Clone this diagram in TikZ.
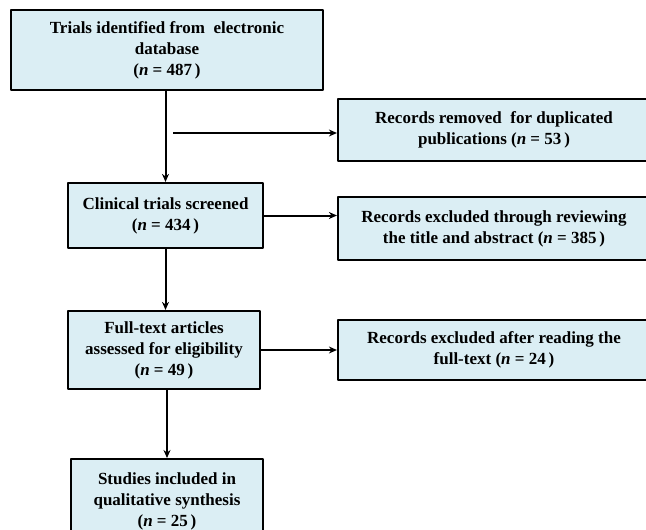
\documentclass[tikz,border=0pt]{standalone}
\usepackage{fontspec}
\setmainfont{Liberation Serif}
\usetikzlibrary{arrows.meta}
\definecolor{boxblue}{HTML}{DBEEF4}
\newcommand{\nn}[1]{(\textit{n} = #1\,)}
\begin{document}
\begin{tikzpicture}[x=1pt,y=-1pt,line join=round,>={Stealth[length=8pt,width=7pt]},
  font=\fontsize{17}{21}\selectfont\bfseries,
  flowbox/.style={draw=black,line width=2.2pt,fill=boxblue,align=center,inner sep=2pt},
  flow/.style={->,line width=2pt}]
\def \bw{312};
\clip (0,0) rectangle (646,530);
\node[flowbox,minimum width=\bw,minimum height=80] (trials) at (167,50) {Trials identified from \ electronic\\database\\\nn{487}};
\node[flowbox,minimum width=\bw,minimum height=62] (dup) at (494,130) {Records removed \ for duplicated\\publications \nn{53}};
\node[flowbox,minimum width=195,minimum height=65] (screen) at (165.5,215.5) {Clinical trials screened\\\nn{434}};
\node[flowbox,minimum width=\bw,minimum height=63] (title) at (494,228.5) {Records excluded through reviewing\\the title and abstract \nn{385}};
\node[flowbox,minimum width=192,minimum height=78] (full) at (164,350) {Full-text articles\\assessed for eligibility\\\nn{49}};
\node[flowbox,minimum width=\bw,minimum height=60] (read) at (494,350) {Records excluded after reading the\\full-text \nn{24}};
\node[flowbox,minimum width=192,anchor=north,inner ysep=13.5pt] (incl) at (167,458) {Studies included in\\qualitative synthesis\\\nn{25}};
\coordinate (branch) at (173,133);
\draw[flow] (trials.south -| screen) -- (screen.north);
\draw[flow] (branch) -- (branch -| dup.west);
\draw[flow] (screen.east) -- (screen.east -| title.west);
\draw[flow] (screen.south) -- (screen.south |- full.north);
\draw[flow] (full.east) -- (full.east -| read.west);
\draw[flow] (full.south -| incl) -- (incl.north);
\end{tikzpicture}
\end{document}
